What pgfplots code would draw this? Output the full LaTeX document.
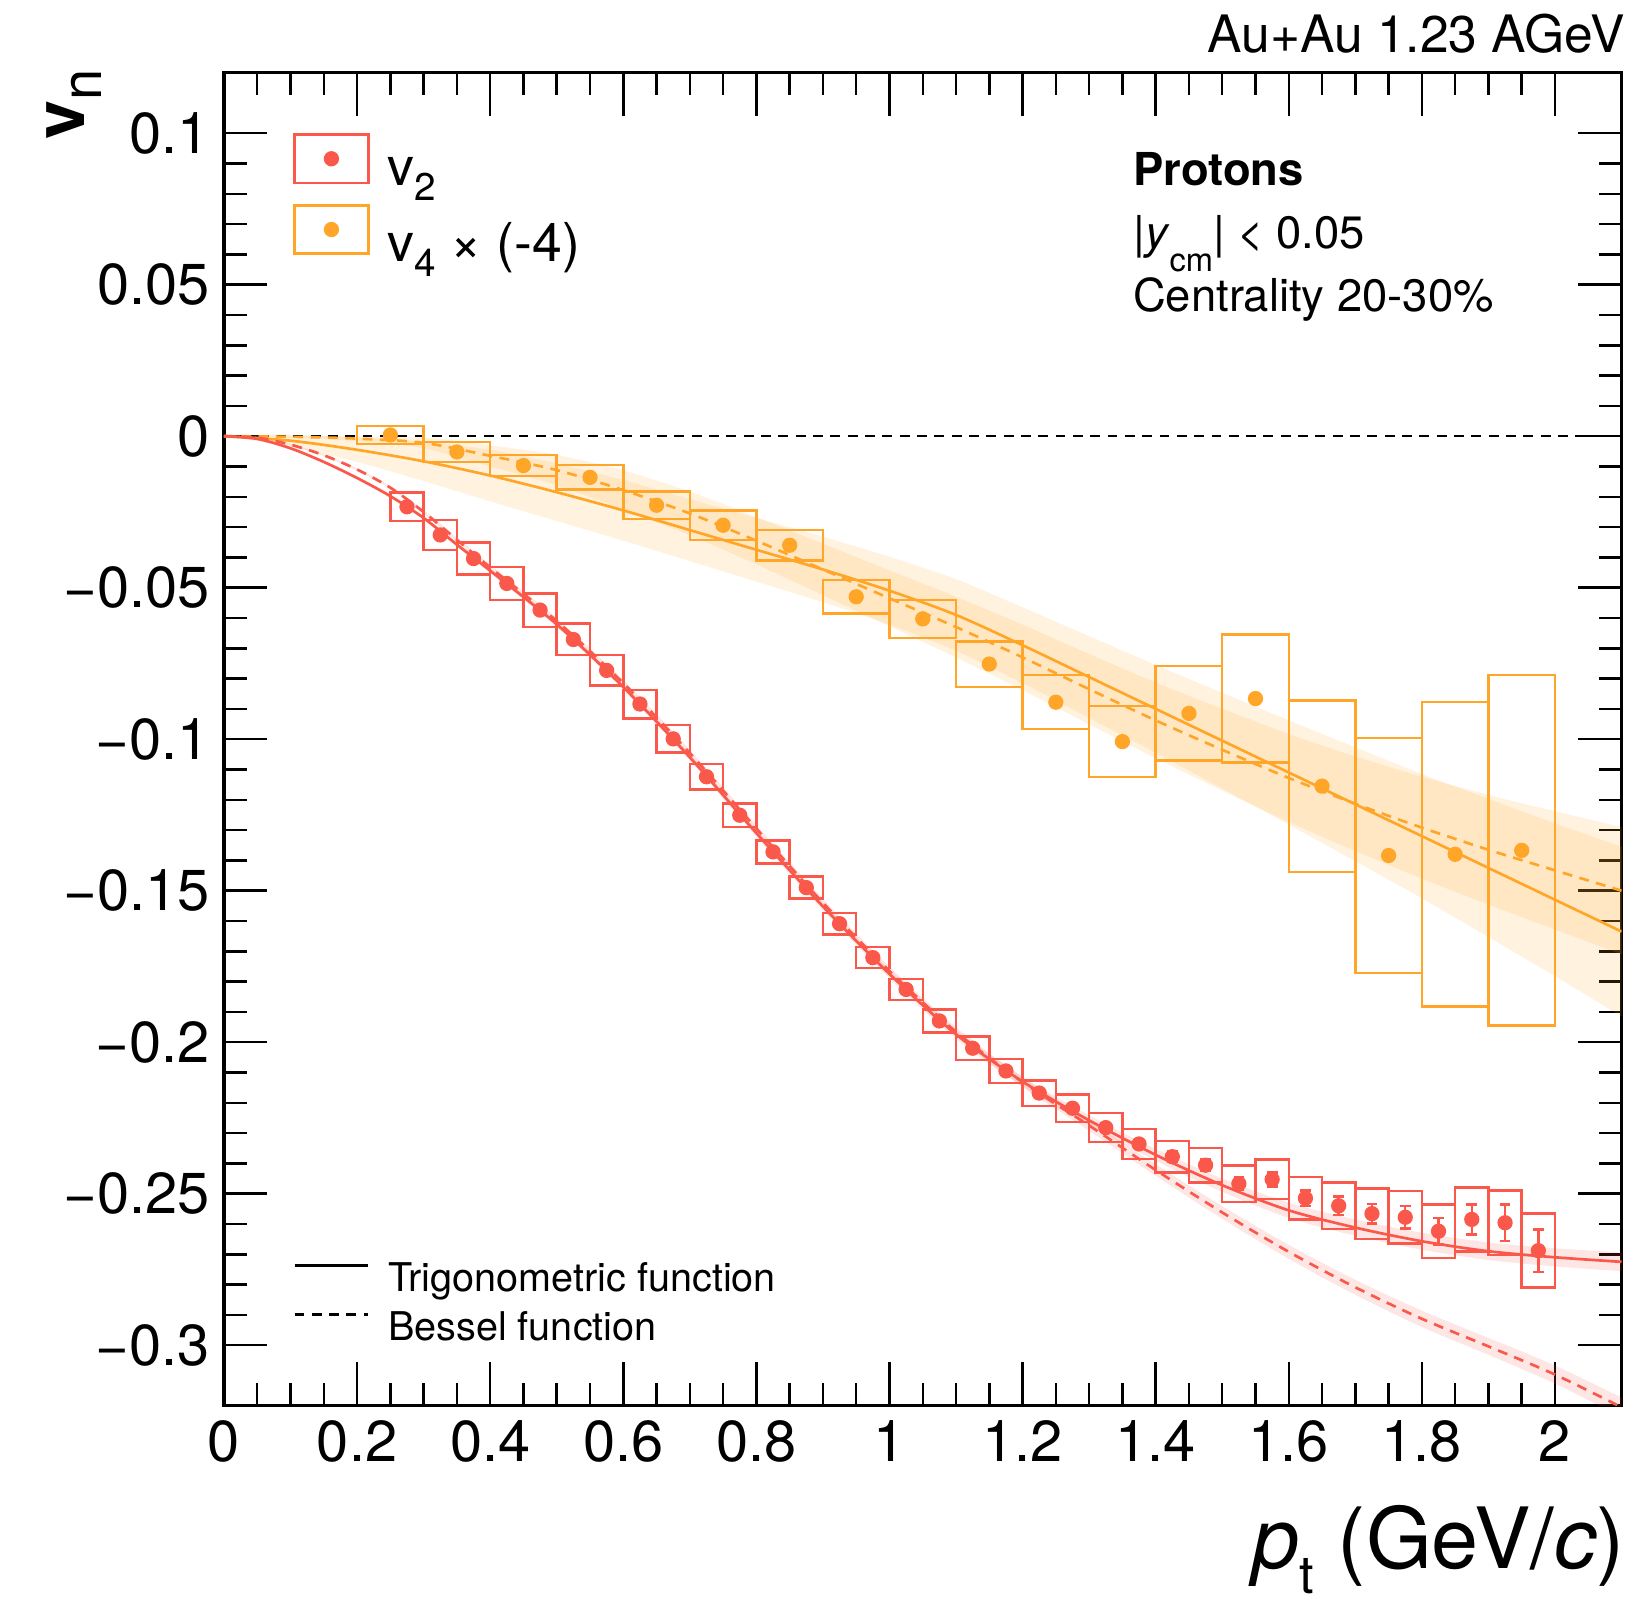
\documentclass[border=0pt]{standalone}
\usepackage{fontspec}
\setmainfont{TeX Gyre Heros}
\usepackage{graphicx}
\usepackage{pgfplots}
\pgfplotsset{compat=1.18}
\usepackage{pgfplotstable}
\usepgfplotslibrary{fillbetween}

\definecolor{cvtwo}{RGB}{250,88,75}
\definecolor{cvfour}{RGB}{255,166,41}

% lowered, shrunk subscript in text font
\newcommand\sub[2][0.3em]{\raisebox{-#1}{\scalebox{0.72}{#2}}}

% v2, stat and sys errors
\pgfplotstableread{
x y stat sys
0.275 -0.0233 0.0004 0.0047
0.325 -0.0326 0.0004 0.0049
0.375 -0.0404 0.0004 0.0053
0.425 -0.0486 0.0004 0.0054
0.475 -0.0574 0.0004 0.0055
0.525 -0.0671 0.0004 0.0052
0.575 -0.0773 0.0004 0.0050
0.625 -0.0884 0.0005 0.0047
0.675 -0.0999 0.0005 0.0045
0.725 -0.1124 0.0005 0.0042
0.775 -0.1251 0.0005 0.0039
0.825 -0.1372 0.0006 0.0038
0.875 -0.1490 0.0006 0.0036
0.925 -0.1609 0.0007 0.0035
0.975 -0.1721 0.0007 0.0035
1.025 -0.1826 0.0008 0.0035
1.075 -0.1930 0.0009 0.0038
1.125 -0.2020 0.0010 0.0038
1.175 -0.2095 0.0011 0.0040
1.225 -0.2168 0.0012 0.0042
1.275 -0.2218 0.0013 0.0046
1.325 -0.2282 0.0014 0.0048
1.375 -0.2336 0.0015 0.0050
1.425 -0.2378 0.0017 0.0052
1.475 -0.2406 0.0019 0.0057
1.525 -0.2467 0.0021 0.0060
1.575 -0.2453 0.0023 0.0065
1.625 -0.2515 0.0025 0.0070
1.675 -0.2540 0.0030 0.0077
1.725 -0.2566 0.0032 0.0083
1.775 -0.2578 0.0037 0.0086
1.825 -0.2624 0.0043 0.0088
1.875 -0.2585 0.0050 0.0106
1.925 -0.2596 0.0060 0.0106
1.975 -0.2688 0.0070 0.0122
}\vtwo

% v4 x (-4)
\pgfplotstableread{
x y sys
0.25 0.0004 0.0030
0.35 -0.0052 0.0033
0.45 -0.0097 0.0034
0.55 -0.0136 0.0040
0.65 -0.0228 0.0045
0.75 -0.0294 0.0048
0.85 -0.0360 0.0051
0.95 -0.0530 0.0056
1.05 -0.0603 0.0063
1.15 -0.0752 0.0075
1.25 -0.0878 0.0089
1.35 -0.1008 0.0117
1.45 -0.0915 0.0156
1.55 -0.0866 0.0211
1.65 -0.1155 0.0283
1.75 -0.1384 0.0388
1.85 -0.1380 0.0502
1.95 -0.1367 0.0578
}\vfour

% fits: curve, band low, band high
\pgfplotstableread{
x y lo hi
0 0 0 0
0.05 -0.0009 -0.0010 -0.0008
0.1 -0.0040 -0.0042 -0.0038
0.15 -0.0085 -0.0088 -0.0082
0.2 -0.0138 -0.0142 -0.0134
0.25 -0.0198 -0.0203 -0.0193
0.3 -0.0270 -0.0276 -0.0264
0.35 -0.0358 -0.0365 -0.0351
0.4 -0.0444 -0.0452 -0.0436
0.5 -0.0621 -0.0630 -0.0612
0.6 -0.0828 -0.0838 -0.0818
0.7 -0.1060 -0.1071 -0.1049
0.8 -0.1310 -0.1322 -0.1298
0.9 -0.1552 -0.1565 -0.1539
1.0 -0.1775 -0.1789 -0.1761
1.1 -0.1974 -0.1989 -0.1959
1.2 -0.2130 -0.2146 -0.2114
1.3 -0.2258 -0.2275 -0.2241
1.4 -0.2372 -0.2391 -0.2353
1.5 -0.2472 -0.2494 -0.2450
1.6 -0.2555 -0.2580 -0.2530
1.7 -0.2612 -0.2639 -0.2585
1.8 -0.2657 -0.2685 -0.2629
1.9 -0.2690 -0.2719 -0.2661
2.0 -0.2710 -0.2740 -0.2680
2.1 -0.2725 -0.2756 -0.2694
}\trigtwo

\pgfplotstableread{
x y lo hi
0 0 0 0
0.05 -0.0005 -0.0006 -0.0004
0.1 -0.0028 -0.0030 -0.0026
0.15 -0.0063 -0.0066 -0.0060
0.2 -0.0110 -0.0114 -0.0106
0.25 -0.0170 -0.0175 -0.0165
0.3 -0.0250 -0.0256 -0.0244
0.35 -0.0342 -0.0349 -0.0335
0.4 -0.0433 -0.0441 -0.0425
0.5 -0.0610 -0.0619 -0.0601
0.6 -0.0815 -0.0825 -0.0805
0.7 -0.1046 -0.1057 -0.1035
0.8 -0.1295 -0.1307 -0.1283
0.9 -0.1540 -0.1553 -0.1527
1.0 -0.1765 -0.1779 -0.1751
1.1 -0.1966 -0.1981 -0.1951
1.2 -0.2132 -0.2148 -0.2116
1.3 -0.2275 -0.2292 -0.2258
1.4 -0.2422 -0.2441 -0.2403
1.5 -0.2562 -0.2583 -0.2541
1.6 -0.2692 -0.2715 -0.2669
1.7 -0.2809 -0.2834 -0.2784
1.8 -0.2913 -0.2940 -0.2886
1.9 -0.3004 -0.3032 -0.2976
2.0 -0.3097 -0.3127 -0.3067
2.1 -0.3205 -0.3237 -0.3173
}\besstwo

\pgfplotstableread{
x y lo hi
0 0 0 0
0.1 -0.0015 -0.0035 0.0005
0.2 -0.0045 -0.0085 -0.0005
0.3 -0.0083 -0.0148 -0.0018
0.4 -0.0130 -0.0215 -0.0045
0.5 -0.0185 -0.0280 -0.0090
0.6 -0.0245 -0.0345 -0.0145
0.7 -0.0310 -0.0412 -0.0208
0.8 -0.0375 -0.0480 -0.0270
0.9 -0.0440 -0.0548 -0.0332
1.0 -0.0510 -0.0622 -0.0398
1.1 -0.0590 -0.0708 -0.0472
1.2 -0.0690 -0.0815 -0.0565
1.3 -0.0795 -0.0930 -0.0660
1.4 -0.0900 -0.1045 -0.0755
1.5 -0.1005 -0.1163 -0.0847
1.6 -0.1110 -0.1282 -0.0938
1.7 -0.1215 -0.1403 -0.1027
1.8 -0.1320 -0.1525 -0.1115
1.9 -0.1425 -0.1653 -0.1197
2.0 -0.1530 -0.1782 -0.1278
2.1 -0.1635 -0.1915 -0.1355
}\trigfour

\pgfplotstableread{
x y lo hi
0 0 0 0
0.1 -0.0002 -0.0005 0.0001
0.2 -0.0008 -0.0016 0.0000
0.3 -0.0022 -0.0040 -0.0004
0.4 -0.0065 -0.0100 -0.0030
0.5 -0.0112 -0.0162 -0.0062
0.6 -0.0178 -0.0243 -0.0113
0.7 -0.0255 -0.0327 -0.0183
0.8 -0.0345 -0.0423 -0.0267
0.9 -0.0440 -0.0525 -0.0355
1.0 -0.0535 -0.0627 -0.0443
1.1 -0.0630 -0.0730 -0.0530
1.2 -0.0730 -0.0838 -0.0622
1.3 -0.0835 -0.0951 -0.0719
1.4 -0.0938 -0.1063 -0.0813
1.5 -0.1035 -0.1170 -0.0900
1.6 -0.1128 -0.1273 -0.0983
1.7 -0.1213 -0.1369 -0.1057
1.8 -0.1292 -0.1460 -0.1124
1.9 -0.1365 -0.1546 -0.1184
2.0 -0.1433 -0.1628 -0.1238
2.1 -0.1500 -0.1710 -0.1290
}\bessfour

\pgfplotstableread{
x y
0 0
2.1 0
}\zeroline

\pgfplotsset{
  rootbox/.style={
    scale only axis, width=338.8pt, height=323.2pt,
    xmin=0, xmax=2.1, ymin=-0.32, ymax=0.12,
  },
  band/.style={fill=#1, opacity=0.15, draw=none, forget plot},
  edge/.style={draw=none, smooth, forget plot},
  fitline/.style={color=#1, line width=0.65pt, smooth, forget plot},
  bessdash/.style={dash pattern=on 2.4pt off 1.8pt},
  % box of half width #1 round each point, height from column sys
  sysbox/.style 2 args={
    only marks, mark=*, mark size=1.65pt, color=#2, forget plot,
    scatter, point meta=y,
    visualization depends on={\thisrow{sys}\as\sysv},
    scatter/@pre marker code/.code={%
      \draw[#2, line width=0.6pt, fill=none]
        (axis direction cs:-#1,-\sysv) rectangle (axis direction cs:#1,\sysv);},
    scatter/@post marker code/.code={},
  },
}

\begin{document}
\begin{tikzpicture}
\begin{axis}[
  rootbox, name=main,
  axis line style={line width=0.75pt},
  xtick={0,0.2,0.4,0.6,0.8,1,1.2,1.4,1.6,1.8,2},
  xticklabels={0,0.2,0.4,0.6,0.8,1,1.2,1.4,1.6,1.8,2},
  ytick={-0.3,-0.25,-0.2,-0.15,-0.1,-0.05,0,0.05,0.1},
  yticklabels={−0.3,−0.25,−0.2,−0.15,−0.1,−0.05,0,0.05,0.1},
  minor x tick num=3, minor y tick num=4,
  tick align=inside, major tick length=10.5pt, minor tick length=5.5pt,
  tick style={black, line width=0.6pt},
  ticklabel style={font=\fontsize{14}{16}\selectfont},
  xlabel={\textit{p}\raisebox{-0.3em}{\scalebox{0.62}{t}} (GeV/\textit{c})},
  xlabel style={at={(rel axis cs:1.003,-0.122)}, anchor=base east,
    inner sep=0pt, font=\fontsize{20.5}{22}\selectfont},
  ylabel={\textbf{v}\raisebox{-0.24em}{\scalebox{0.8}{n}}},
  ylabel style={at={(rel axis cs:-0.100,1.003)}, anchor=base east,
    inner sep=0pt, font=\fontsize{17}{19}\selectfont},
  legend style={at={(rel axis cs:0.049,0.955)}, anchor=north west,
    draw=none, fill=none, inner sep=0pt, row sep=3pt,
    nodes={inner sep=0pt},
    font=\fontsize{13}{15}\selectfont,
    /tikz/every odd column/.append style={column sep=4.3pt}},
  legend cell align=left,
  after end axis/.code={
    \node[anchor=base east, inner sep=0pt, font=\fontsize{12.5}{14}\selectfont]
      at (rel axis cs:1.003,1.015) {Au+Au 1.23 AGeV};
    \node[anchor=base west, inner sep=0pt, font=\bfseries\fontsize{11}{13}\selectfont]
      at (rel axis cs:0.65,0.915) {Protons};
    \node[anchor=base west, inner sep=0pt, font=\fontsize{11}{13}\selectfont]
      at (rel axis cs:0.65,0.868) {|\textit{y}\sub[0.5em]{cm}| < 0.05};
    \node[anchor=base west, inner sep=0pt, font=\fontsize{11}{13}\selectfont]
      at (rel axis cs:0.65,0.821) {Centrality 20-30\%};
  },
]
% bands for v4 fits
\addplot[edge, name path=tfh] table[x=x, y=hi] {\trigfour};
\addplot[edge, name path=tfl] table[x=x, y=lo] {\trigfour};
\addplot[band=cvfour] fill between[of=tfh and tfl];
\addplot[edge, name path=bfh] table[x=x, y=hi] {\bessfour};
\addplot[edge, name path=bfl] table[x=x, y=lo] {\bessfour};
\addplot[band=cvfour] fill between[of=bfh and bfl];
% bands for v2 fits
\addplot[edge, name path=tth] table[x=x, y=hi] {\trigtwo};
\addplot[edge, name path=ttl] table[x=x, y=lo] {\trigtwo};
\addplot[band=cvtwo] fill between[of=tth and ttl];
\addplot[edge, name path=bth] table[x=x, y=hi] {\besstwo};
\addplot[edge, name path=btl] table[x=x, y=lo] {\besstwo};
\addplot[band=cvtwo] fill between[of=bth and btl];

\addplot[black, line width=0.6pt, bessdash, forget plot] table {\zeroline};

% fit curves
\addplot[fitline=cvfour] table[x=x, y=y] {\trigfour};
\addplot[fitline=cvfour, bessdash] table[x=x, y=y] {\bessfour};
\addplot[fitline=cvtwo] table[x=x, y=y] {\trigtwo};
\addplot[fitline=cvtwo, bessdash] table[x=x, y=y] {\besstwo};

% data with systematic boxes (and stat error bars for v2)
\addplot[sysbox={0.05}{cvfour}] table[x=x, y=y] {\vfour};
\addplot[sysbox={0.025}{cvtwo},
  error bars/.cd, y dir=both, y explicit,
  error bar style={line width=0.6pt},
  error mark options={rotate=90, mark size=1.3pt, line width=0.6pt}]
  table[x=x, y=y, y error=stat] {\vtwo};

\addlegendimage{legend image code/.code={
  \draw[cvtwo, line width=0.6pt] (0pt,-2pt) rectangle (17.9pt,9.7pt);
  \fill[cvtwo] (8.95pt,3.85pt) circle (1.65pt);}}
\addlegendentry{v\sub[0.28em]{2}}
\addlegendimage{legend image code/.code={
  \draw[cvfour, line width=0.6pt] (0pt,-2pt) rectangle (17.9pt,9.7pt);
  \fill[cvfour] (8.95pt,3.85pt) circle (1.65pt);}}
\addlegendentry{v\sub[0.28em]{4} × (-4)}
\end{axis}

% second, hidden axis only for the line-style legend
\begin{axis}[
  rootbox, hide axis,
  at={(main.south west)}, anchor=south west,
  legend style={at={(rel axis cs:0.049,0.108)}, anchor=north west,
    draw=none, fill=none, inner sep=0pt, row sep=3.4pt,
    nodes={inner sep=0pt},
    font=\fontsize{9.6}{11}\selectfont,
    /tikz/every odd column/.append style={column sep=4.5pt}},
  legend cell align=left,
]
\addlegendimage{legend image code/.code={
  \draw[black, line width=0.6pt] (0pt,3.6pt) -- (17.9pt,3.6pt);}}
\addlegendentry{Trigonometric function}
\addlegendimage{legend image code/.code={
  \draw[black, line width=0.6pt, dash pattern=on 2.4pt off 1.8pt] (0pt,3.6pt) -- (17.9pt,3.6pt);}}
\addlegendentry{Bessel function}
\end{axis}

\pgfresetboundingbox
\path ([shift={(-54.3pt,-49pt)}]main.south west) rectangle ([shift={(345.7pt,340.8pt)}]main.south west);
\end{tikzpicture}
\end{document}
